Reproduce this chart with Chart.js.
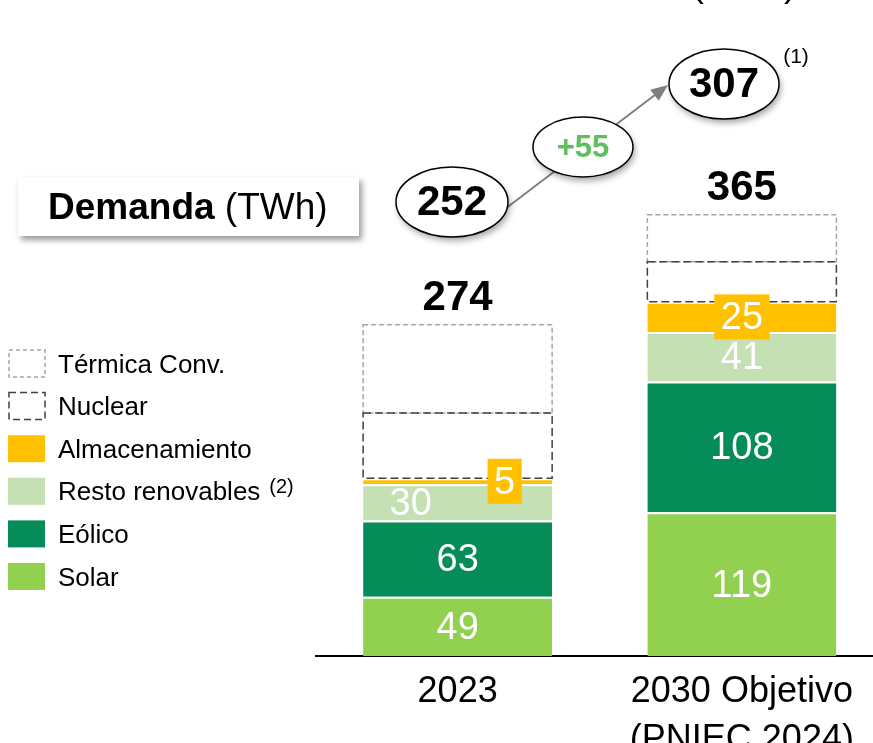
<!DOCTYPE html>
<html lang="es">
<head>
    <meta charset="UTF-8">
    <title>Demanda y generación (TWh)</title>
    <script src="https://cdn.jsdelivr.net/npm/chart.js"></script>
    <style>
        html, body { margin: 0; padding: 0; background: #fff; overflow: hidden; }
        #wrap { position: relative; width: 884px; height: 743px; }
    </style>
</head>
<body>
    <div id="wrap"><canvas id="genChart"></canvas></div>

    <script>
        // Data (TWh)
        const years = ['2023', ['2030 Objetivo', '(PNIEC 2024)']];
        const solar = [49, 119];
        const eolico = [63, 108];
        const restoRenovables = [30, 41];
        const almacenamiento = [5, 25];
        const nuclear = [54, 33];
        const termicaConv = [73, 39];
        const demanda = [252, 307];
        const demandaDelta = '+55';

        const FONT = '"Liberation Sans", Arial, sans-serif';

        function ellipse(ctx, cx, cy, rx, ry, text, font, color) {
            ctx.save();
            ctx.beginPath();
            ctx.ellipse(cx, cy, rx, ry, 0, 0, Math.PI * 2);
            ctx.shadowColor = 'rgba(0,0,0,0.35)';
            ctx.shadowBlur = 6;
            ctx.shadowOffsetX = 2;
            ctx.shadowOffsetY = 4;
            ctx.fillStyle = '#fff';
            ctx.fill();
            ctx.restore();
            ctx.save();
            ctx.beginPath();
            ctx.ellipse(cx, cy, rx, ry, 0, 0, Math.PI * 2);
            ctx.strokeStyle = '#000';
            ctx.lineWidth = 1.5;
            ctx.stroke();
            ctx.font = font;
            ctx.fillStyle = color;
            ctx.textAlign = 'center';
            ctx.textBaseline = 'middle';
            ctx.fillText(text, cx, cy + 1);
            ctx.restore();
        }

        const overlay = {
            id: 'overlay',
            afterDatasetsDraw(chart) {
                const ctx = chart.ctx;
                const sets = chart.data.datasets;

                // dashed boxes (térmica first, nuclear on top)
                for (let i = sets.length - 1; i >= 0; i--) {
                    const ds = sets[i];
                    if (!ds.dash) continue;
                    chart.getDatasetMeta(i).data.forEach(bar => {
                        const p = bar.getProps(['x', 'y', 'base', 'width'], true);
                        ctx.save();
                        ctx.strokeStyle = ds.dashColor;
                        ctx.lineWidth = 1.5;
                        ctx.setLineDash(ds.dash);
                        ctx.strokeRect(p.x - p.width / 2, p.y, p.width, p.base - p.y);
                        ctx.restore();
                    });
                }

                // values inside the bars
                sets.forEach((ds, i) => {
                    if (ds.dash) return;
                    chart.getDatasetMeta(i).data.forEach((bar, j) => {
                        const p = bar.getProps(['x', 'y', 'base'], true);
                        const cx = p.x + (ds.labelDx ? ds.labelDx[j] : 0);
                        const cy = (p.y + p.base) / 2;
                        const txt = String(ds.data[j]);
                        ctx.save();
                        ctx.font = '38px ' + FONT;
                        if (ds.labelBox) {
                            const w = ctx.measureText(txt).width + 13;
                            ctx.fillStyle = ds.backgroundColor;
                            ctx.fillRect(cx - w / 2, cy - 22.5, w, 45);
                        }
                        ctx.fillStyle = '#fff';
                        ctx.textAlign = 'center';
                        ctx.textBaseline = 'middle';
                        ctx.fillText(txt, cx, cy + 2);
                        ctx.restore();
                    });
                });

                // totals above the stacks
                const yScale = chart.scales.y;
                const xScale = chart.scales.x;
                years.forEach((_, j) => {
                    const total = sets.reduce((s, ds) => s + ds.data[j], 0);
                    ctx.save();
                    ctx.font = 'bold 42px ' + FONT;
                    ctx.fillStyle = '#000';
                    ctx.textAlign = 'center';
                    ctx.textBaseline = 'middle';
                    ctx.fillText(String(total), xScale.getPixelForValue(j), yScale.getPixelForValue(total) - 26);
                    ctx.restore();
                });

                // demand arrow and bubbles
                ctx.save();
                const x0 = 505, y0 = 209, x1 = 668, y1 = 85;
                const ang = Math.atan2(y1 - y0, x1 - x0);
                ctx.strokeStyle = '#7f7f7f';
                ctx.fillStyle = '#7f7f7f';
                ctx.lineWidth = 2;
                ctx.beginPath();
                ctx.moveTo(x0, y0);
                ctx.lineTo(x1 - 14 * Math.cos(ang), y1 - 14 * Math.sin(ang));
                ctx.stroke();
                ctx.beginPath();
                ctx.moveTo(x1, y1);
                ctx.lineTo(x1 - 17 * Math.cos(ang) + 7 * Math.sin(ang), y1 - 17 * Math.sin(ang) - 7 * Math.cos(ang));
                ctx.lineTo(x1 - 17 * Math.cos(ang) - 7 * Math.sin(ang), y1 - 17 * Math.sin(ang) + 7 * Math.cos(ang));
                ctx.closePath();
                ctx.fill();
                ctx.restore();

                ellipse(ctx, 452, 202, 56, 35, String(demanda[0]), 'bold 42px ' + FONT, '#000');
                ellipse(ctx, 583, 147, 50, 30, demandaDelta, 'bold 31px ' + FONT, '#5fbf5f');
                ellipse(ctx, 724, 84, 55, 35, String(demanda[1]), 'bold 42px ' + FONT, '#000');

                ctx.save();
                ctx.fillStyle = '#000';
                ctx.textAlign = 'center';
                ctx.textBaseline = 'middle';
                ctx.font = '21px ' + FONT;
                ctx.fillText('(1)', 796, 57);
                ctx.font = '38px ' + FONT;
                ctx.textBaseline = 'alphabetic';
                ctx.fillText('(TWh)', 744, -4);
                ctx.restore();

                // "Demanda (TWh)" box
                ctx.save();
                ctx.shadowColor = 'rgba(0,0,0,0.4)';
                ctx.shadowBlur = 6;
                ctx.shadowOffsetX = 3;
                ctx.shadowOffsetY = 4;
                ctx.fillStyle = '#fff';
                ctx.fillRect(18, 177, 341, 59);
                ctx.restore();
                ctx.save();
                ctx.fillStyle = '#000';
                ctx.textBaseline = 'middle';
                ctx.font = 'bold 37px ' + FONT;
                ctx.fillText('Demanda', 48, 209);
                const dw = ctx.measureText('Demanda').width;
                ctx.font = '37px ' + FONT;
                ctx.fillText(' (TWh)', 48 + dw, 209);
                ctx.restore();

                // legend
                const order = sets.slice().reverse();
                order.forEach((ds, k) => {
                    const cy = 363.5 + k * 42.6;
                    ctx.save();
                    if (ds.dash) {
                        ctx.strokeStyle = ds.dashColor;
                        ctx.lineWidth = 1.5;
                        ctx.setLineDash(ds.legendDash);
                        ctx.strokeRect(9, cy - 13.5, 36, 27);
                    } else {
                        ctx.fillStyle = ds.backgroundColor;
                        ctx.fillRect(8, cy - 13.5, 37, 27);
                    }
                    ctx.setLineDash([]);
                    ctx.fillStyle = '#000';
                    ctx.font = '26px ' + FONT;
                    ctx.textBaseline = 'middle';
                    ctx.fillText(ds.label, 58, cy + 2);
                    if (ds.note) {
                        const w = ctx.measureText(ds.label).width;
                        ctx.font = '20px ' + FONT;
                        ctx.fillText(ds.note, 58 + w + 9, cy - 4);
                    }
                    ctx.restore();
                });
            }
        };

        const ctx = document.getElementById('genChart').getContext('2d');
        const chart = new Chart(ctx, {
            type: 'bar',
            data: {
                labels: years,
                datasets: [
                    { label: 'Solar', data: solar, backgroundColor: '#92d050' },
                    { label: 'Eólico', data: eolico, backgroundColor: '#058c59' },
                    { label: 'Resto renovables', note: '(2)', data: restoRenovables, backgroundColor: '#c5e0b3', labelDx: [-47, 0] },
                    { label: 'Almacenamiento', data: almacenamiento, backgroundColor: '#ffc000', labelDx: [47, 0], labelBox: true },
                    { label: 'Nuclear', data: nuclear, backgroundColor: 'rgba(0,0,0,0)', dash: [8, 4], legendDash: [7, 4], dashColor: '#404040' },
                    { label: 'Térmica Conv.', data: termicaConv, backgroundColor: 'rgba(0,0,0,0)', dash: [5, 3], legendDash: [4, 3], dashColor: '#a6a6a6' },
                ].map(d => Object.assign({
                    borderColor: '#fff',
                    borderWidth: d.dash ? 0 : { top: 2, right: 0, bottom: 0, left: 0 },
                    borderSkipped: false,
                    categoryPercentage: 1,
                    barPercentage: 0.665,
                }, d)),
            },
            options: {
                responsive: true,
                maintainAspectRatio: false,
                animation: false,
                layout: { padding: { left: 315.5, right: 0, top: 0, bottom: 0 } },
                plugins: {
                    legend: { display: false },
                    tooltip: { enabled: false },
                },
                scales: {
                    x: {
                        stacked: true,
                        grid: { display: false, drawTicks: false },
                        border: { display: true, color: '#000', width: 2 },
                        ticks: {
                            color: '#000',
                            padding: 12,
                            font: { family: FONT, size: 36, lineHeight: 1.33 },
                        },
                        afterFit(scale) { scale.height = 87; },
                    },
                    y: {
                        stacked: true,
                        display: false,
                        min: 0,
                        max: 542.6,
                    },
                },
            },
            plugins: [overlay],
        });
    </script>
</body>
</html>
